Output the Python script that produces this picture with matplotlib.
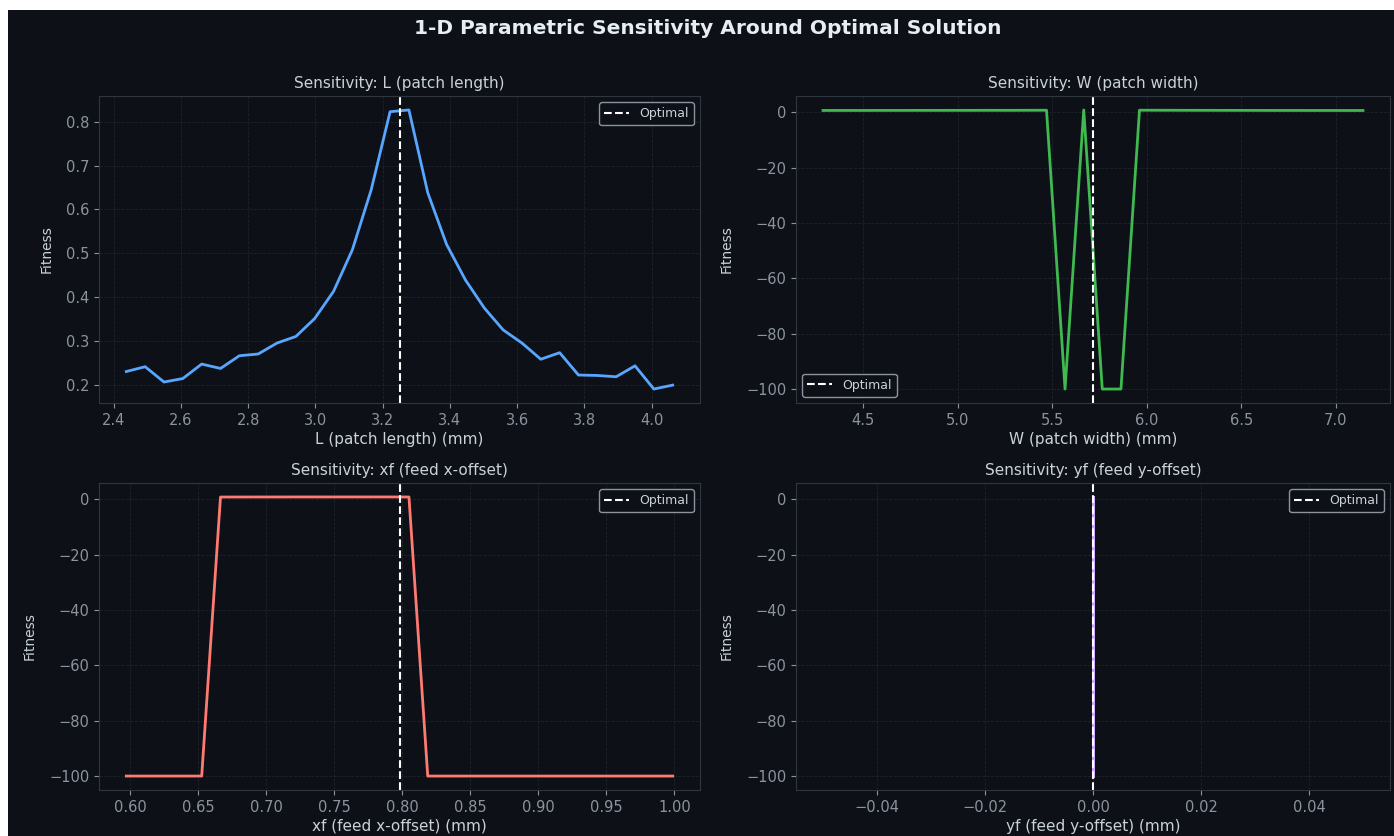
import matplotlib
matplotlib.use("Agg")
import matplotlib.pyplot as plt
from matplotlib.patches import Rectangle

plt.rcParams['font.family'] = ['DejaVu Sans']

# ---------------- data ----------------
L_vals = [2.4375, 2.4935, 2.5496, 2.6056, 2.6616, 2.7177, 2.7737, 2.8297, 2.8858, 2.9418,
          2.9978, 3.0539, 3.1099, 3.1659, 3.2220, 3.2780, 3.3341, 3.3901, 3.4461, 3.5022,
          3.5582, 3.6142, 3.6703, 3.7263, 3.7823, 3.8384, 3.8944, 3.9504, 4.0065, 4.0625]
L_fit = [0.230, 0.241, 0.206, 0.214, 0.247, 0.237, 0.266, 0.270, 0.295, 0.310,
         0.351, 0.413, 0.508, 0.645, 0.823, 0.827, 0.638, 0.520, 0.439, 0.375,
         0.325, 0.295, 0.258, 0.273, 0.222, 0.221, 0.218, 0.243, 0.190, 0.199]
L_opt = 3.25

W_vals = [4.287, 4.386, 4.484, 4.583, 4.681, 4.780, 4.878, 4.977, 5.075, 5.174,
          5.272, 5.371, 5.470, 5.568, 5.667, 5.765, 5.864, 5.962, 6.061, 6.159,
          6.258, 6.356, 6.455, 6.553, 6.652, 6.750, 6.849, 6.947, 7.046, 7.145]
W_fit = [0.62, 0.63, 0.62, 0.64, 0.63, 0.65, 0.64, 0.66, 0.65, 0.67,
         0.66, 0.68, 0.70, -100.0, 0.80, -100.0, -100.0, 0.71, 0.69, 0.68,
         0.67, 0.66, 0.65, 0.64, 0.63, 0.63, 0.62, 0.62, 0.61, 0.61]
W_opt = 5.716

XF_vals = [0.5973, 0.6111, 0.6250, 0.6388, 0.6527, 0.6665, 0.6804, 0.6942, 0.7081, 0.7219,
           0.7357, 0.7496, 0.7634, 0.7773, 0.7911, 0.8050, 0.8188, 0.8327, 0.8465, 0.8604,
           0.8742, 0.8881, 0.9019, 0.9157, 0.9296, 0.9434, 0.9573, 0.9711, 0.9850, 0.9988]
XF_fit = [-100.0, -100.0, -100.0, -100.0, -100.0, 0.80, 0.81, 0.82, 0.82, 0.83,
          0.83, 0.83, 0.83, 0.83, 0.83, 0.82, -100.0, -100.0, -100.0, -100.0,
          -100.0, -100.0, -100.0, -100.0, -100.0, -100.0, -100.0, -100.0, -100.0, -100.0]
XF_opt = 0.7985

YF_vals = [0.0] * 30
YF_fit = [-100.0, -100.0, -100.0, 0.80, -100.0, -100.0, 0.81, -100.0, -100.0, -100.0,
          0.82, -100.0, -100.0, 0.83, 0.83, 0.83, -100.0, -100.0, 0.82, -100.0,
          -100.0, -100.0, 0.81, -100.0, -100.0, -100.0, -100.0, 0.80, -100.0, -100.0]
YF_opt = 0.0

panels = [
    ("L (patch length)", L_vals, L_fit, L_opt, "#58a6ff", "upper right"),
    ("W (patch width)", W_vals, W_fit, W_opt, "#3fb950", "lower left"),
    ("xf (feed x-offset)", XF_vals, XF_fit, XF_opt, "#ff7b72", "upper right"),
    ("yf (feed y-offset)", YF_vals, YF_fit, YF_opt, "#d2a8ff", "upper right"),
]

# ---------------- style ----------------
BG = "#0d1117"
SPINE = "#30363d"
TICK = "#8b949e"
TEXT = "#c9d1d9"

W_PX, H_PX = 1394, 836
fig = plt.figure(figsize=(W_PX / 100, H_PX / 100), dpi=100, facecolor=BG)

# axes positions in pixels (left, top, right, bottom)
boxes = [(99, 96, 700, 403), (796, 96, 1390, 403),
         (99, 483, 700, 790), (796, 483, 1390, 790)]

for (name, xs, ys, opt, col, loc), (l, t, r, b) in zip(panels, boxes):
    ax = fig.add_axes([l / W_PX, 1 - b / H_PX, (r - l) / W_PX, (b - t) / H_PX])
    ax.set_facecolor(BG)
    ax.plot(xs, ys, color=col, linewidth=2.0)
    ax.axvline(opt, color="white", linestyle="--", linewidth=1.5, label="Optimal")
    ax.set_title(f"Sensitivity: {name}", color=TEXT, fontsize=11, pad=6)
    ax.set_xlabel(f"{name} (mm)", color=TEXT, fontsize=11, labelpad=3)
    ax.set_ylabel("Fitness", color=TEXT, fontsize=10, labelpad=9)
    ax.tick_params(colors=TICK, labelsize=10.5, length=3.5)
    for s in ax.spines.values():
        s.set_color(SPINE)
    ax.grid(True, color=SPINE, linestyle="--", linewidth=0.6, alpha=0.5)
    leg = ax.legend(loc=loc, fontsize=9, facecolor=BG, edgecolor=TICK,
                    framealpha=1.0, labelcolor=TEXT)
    leg.get_frame().set_linewidth(1.0)

fig.suptitle("1-D Parametric Sensitivity Around Optimal Solution",
             color="#e6edf3", fontsize=14.5, fontweight="bold",
             x=708 / W_PX, y=1 - 28 / H_PX, va="center")

# white margins of the screenshot
fig.add_artist(Rectangle((0, 1 - 10 / H_PX), 1, 10 / H_PX, transform=fig.transFigure,
                         facecolor="white", edgecolor="none"))
fig.add_artist(Rectangle((0, 0), 8 / W_PX, 1, transform=fig.transFigure,
                         facecolor="white", edgecolor="none"))

fig.savefig("out.png", dpi=100, facecolor=BG)
